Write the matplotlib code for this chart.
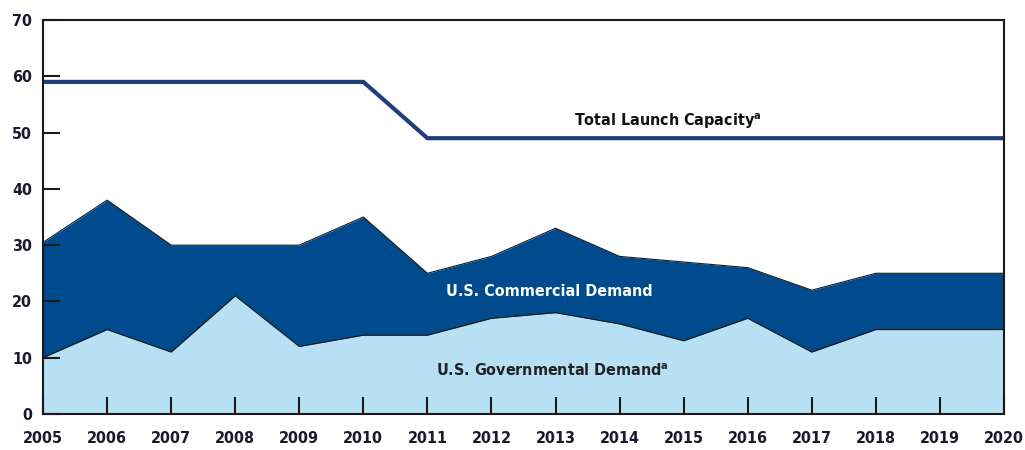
import matplotlib
matplotlib.use("Agg")
import matplotlib.pyplot as plt

years = list(range(2005, 2021))
gov = [10, 15, 11, 21, 12, 14, 14, 17, 18, 16, 13, 17, 11, 15, 15, 15]
total_demand = [30.5, 38, 30, 30, 30, 35, 25, 28, 33, 28, 27, 26, 22, 25, 25, 25]
commercial = [t - g for t, g in zip(total_demand, gov)]
capacity = [59, 59, 59, 59, 59, 59, 49, 49, 49, 49, 49, 49, 49, 49, 49, 49]
yticks = [0, 10, 20, 30, 40, 50, 60, 70]

plt.rcParams['font.family'] = ['DejaVu Sans']
plt.rcParams['font.stretch'] = 'condensed'

fig = plt.figure(figsize=(10.25, 4.5), dpi=100)
ax = fig.add_axes([0.042, 0.08, 0.9375, 0.8756])

top = [g + c for g, c in zip(gov, commercial)]
ax.fill_between(years, 0, gov, color='#b8e0f5', lw=0)
ax.fill_between(years, gov, top, color='#004b8d', lw=0)
ax.plot(years, gov, color='#1a1a1a', lw=0.8)
ax.plot(years, top, color='#1a1a1a', lw=0.8)
ax.plot(years, capacity, color='#1f3f7a', lw=3, solid_joinstyle='miter')

ax.set_xlim(2005, 2020)
ax.set_ylim(0, 70)
ax.set_xticks(years)
ax.set_yticks(yticks)
ax.tick_params(axis='both', direction='in', length=12, width=1.5, colors='#1a1a1a',
               labelsize=11.5, labelcolor='#1a1a2e')
ax.tick_params(axis='x', pad=12)
ax.tick_params(axis='y', pad=8)
for lab in ax.get_xticklabels() + ax.get_yticklabels():
    lab.set_fontweight('bold')
    lab.set_fontstretch('condensed')
for s in ax.spines.values():
    s.set_linewidth(1.5)
    s.set_color('#1a1a1a')

ax.text(2014.75, 52, r'Total Launch Capacity$^{\mathbf{a}}$', ha='center', va='center',
        fontsize=11.5, fontweight='bold', color='#111111', fontstretch='condensed')
ax.text(2012.9, 21.7, 'U.S. Commercial Demand', ha='center', va='center',
        fontsize=11.5, fontweight='bold', color='white', fontstretch='condensed')
ax.text(2012.95, 7.7, r'U.S. Governmental Demand$^{\mathbf{a}}$', ha='center', va='center',
        fontsize=11.5, fontweight='bold', color='#222222', fontstretch='condensed')

fig.savefig('out.png', dpi=100)
